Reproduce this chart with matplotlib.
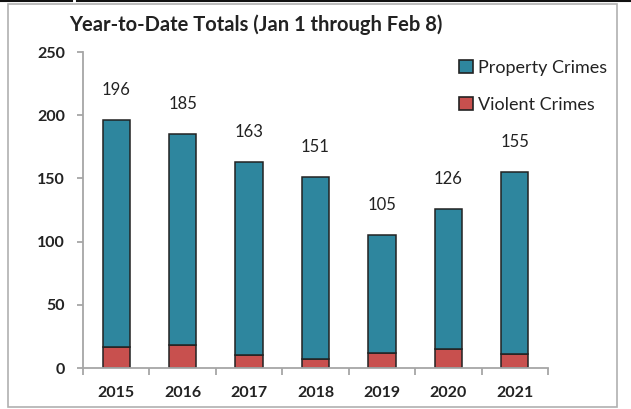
import numpy as np
import matplotlib.pyplot as plt
from matplotlib.lines import Line2D
from matplotlib.patches import Rectangle

years = ['2015', '2016', '2017', '2018', '2019', '2020', '2021']
totals = [196, 185, 163, 151, 105, 126, 155]
violent = [17, 18, 10, 7, 12, 15, 11]
property_crimes = [t - v for t, v in zip(totals, violent)]

teal = '#2E869E'
red = '#C8504E'
grey = '#A6A6A6'

plt.rcParams['font.family'] = ['Lato', 'DejaVu Sans']

fig = plt.figure(figsize=(6.31, 4.09), dpi=100)
ax = fig.add_axes([83 / 631, 1 - 368 / 409, 465 / 631, 316 / 409])

x = np.arange(len(years))
ax.bar(x, violent, width=0.41, color=red, edgecolor='#222222', linewidth=1.1,
       label='Violent Crimes')
ax.bar(x, property_crimes, width=0.41, bottom=violent, color=teal,
       edgecolor='#222222', linewidth=1.1, label='Property Crimes')

for xi, t in zip(x, totals):
    ax.annotate(str(t), (xi, t), xytext=(0, 16), textcoords='offset points',
                ha='center', va='bottom', fontsize=12, color='#222222')

ax.set_xlim(-0.5, len(years) - 0.5)
ax.set_ylim(0, 250)
ax.set_yticks(range(0, 251, 50))
ax.set_xticks(x)
ax.set_xticklabels(years)
ax.set_xticks(np.arange(-0.5, len(years)), minor=True)

for s in ['top', 'right']:
    ax.spines[s].set_visible(False)
for s in ['left', 'bottom']:
    ax.spines[s].set_color(grey)
    ax.spines[s].set_linewidth(1.3)

ax.tick_params(axis='y', length=4, width=1.3, color=grey, pad=9,
               labelsize=11.5, labelcolor='#222222')
ax.tick_params(axis='x', which='major', length=0, pad=13, labelsize=11.5,
               labelcolor='#222222')
ax.tick_params(axis='x', which='minor', length=5, width=1.3, color=grey)
for lab in ax.get_xticklabels() + ax.get_yticklabels():
    lab.set_fontweight('bold')

handles = [Rectangle((0, 0), 1, 1, facecolor=teal, edgecolor='#222222', linewidth=1.2),
           Rectangle((0, 0), 1, 1, facecolor=red, edgecolor='#222222', linewidth=1.2)]
fig.legend(handles, ['Property Crimes', 'Violent Crimes'],
           loc='upper left', bbox_to_anchor=(446 / 631, 1 - 47 / 409),
           frameon=False, fontsize=13, handlelength=0.8, handleheight=0.8,
           handletextpad=0.25, labelspacing=1.15, borderpad=0.2,
           labelcolor='#222222')

fig.text(256 / 631, 1 - 25 / 409, 'Year-to-Date Totals (Jan 1 through Feb 8)',
         ha='center', va='center', fontsize=14.5, fontweight='bold',
         color='#222222')

# outer chart frame and the page line above it
fig.add_artist(Rectangle((8 / 631, 1 - 407 / 409), 609 / 631, 403 / 409,
                         transform=fig.transFigure, fill=False,
                         edgecolor='#B0B0B0', linewidth=1.2))
fig.add_artist(Line2D([0, 72 / 631], [1 - 1 / 409] * 2, transform=fig.transFigure,
                      color='#111111', linewidth=1.5))
fig.add_artist(Line2D([77 / 631, 1], [1 - 1 / 409] * 2, transform=fig.transFigure,
                      color='#111111', linewidth=1.5))

fig.savefig('out.png', dpi=100)
